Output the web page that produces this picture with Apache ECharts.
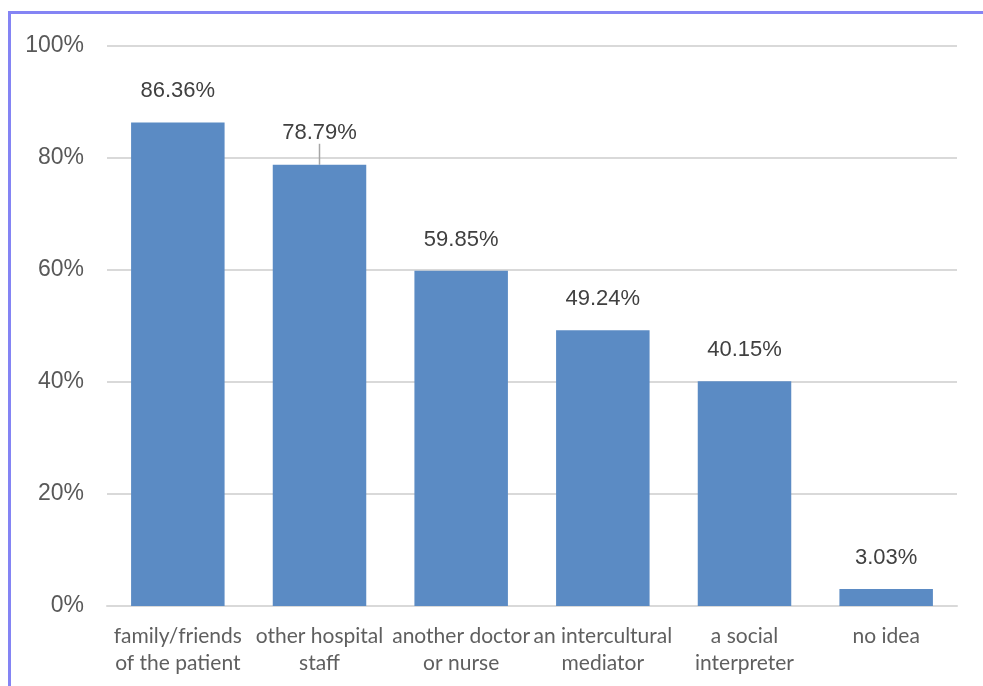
<!DOCTYPE html>
<html>
<head>
<meta charset="utf-8">
<script src="https://cdn.jsdelivr.net/npm/echarts@6/dist/echarts.min.js"></script>
<style>
  html, body { margin: 0; padding: 0; background: #ffffff; }
  #frame {
    position: absolute; left: 8px; top: 11px; width: 975px; height: 675px;
    border-top: 3px solid #8484f4; border-left: 3px solid #8484f4;
    box-sizing: border-box;
  }
  #chart { position: absolute; left: 0; top: 0; width: 983px; height: 686px; }
</style>
</head>
<body>
<div id="frame"></div>
<div id="chart"></div>
<script>
// Who helps with communication: share of respondents per option
const categories = [
  'family/friends\nof the patient',
  'other hospital\nstaff',
  'another doctor\nor nurse',
  'an intercultural\nmediator',
  'a social\ninterpreter',
  'no idea'
];
const shares = [86.36, 78.79, 59.85, 49.24, 40.15, 3.03];
const yTicks = [0, 20, 40, 60, 80, 100];
// the second label carries a short leader line down to its bar
const leaderIndex = 1;

const chart = echarts.init(document.getElementById('chart'), null, { renderer: 'canvas' });
chart.setOption({
  animation: false,
  backgroundColor: 'transparent',
  grid: { left: 107, right: 26, top: 46, bottom: 80, containLabel: false },
  xAxis: {
    type: 'category',
    data: categories,
    axisLine: { show: true, lineStyle: { color: '#d9d9d9', width: 2 } },
    axisTick: { show: false },
    axisLabel: {
      interval: 0,
      margin: 17,
      color: '#5f5f5f',
      fontFamily: 'Lato',
      fontSize: 21,
      lineHeight: 27
    }
  },
  yAxis: {
    type: 'value',
    min: yTicks[0],
    max: yTicks[yTicks.length - 1],
    interval: 20,
    axisLine: { show: false },
    axisTick: { show: false },
    splitLine: { lineStyle: { color: '#d9d9d9', width: 2 } },
    axisLabel: {
      margin: 23,
      color: '#595959',
      fontFamily: 'Liberation Sans',
      fontSize: 23,
      formatter: v => v + '%'
    }
  },
  series: [{
    type: 'bar',
    data: shares.map((v, i) => i === leaderIndex
      ? { value: v, labelLine: { show: true, lineStyle: { color: '#a6a6a6', width: 1.5 } } }
      : v),
    barCategoryGap: '34%',
    itemStyle: { color: '#5b8bc4' },
    labelLayout: p => p.dataIndex === leaderIndex ? { dy: -1 } : null,
    label: {
      show: true,
      position: 'top',
      distance: 20,
      color: '#404040',
      fontFamily: 'Liberation Sans',
      fontSize: 22,
      formatter: p => p.value.toFixed(2) + '%'
    }
  }]
});
</script>
</body>
</html>
